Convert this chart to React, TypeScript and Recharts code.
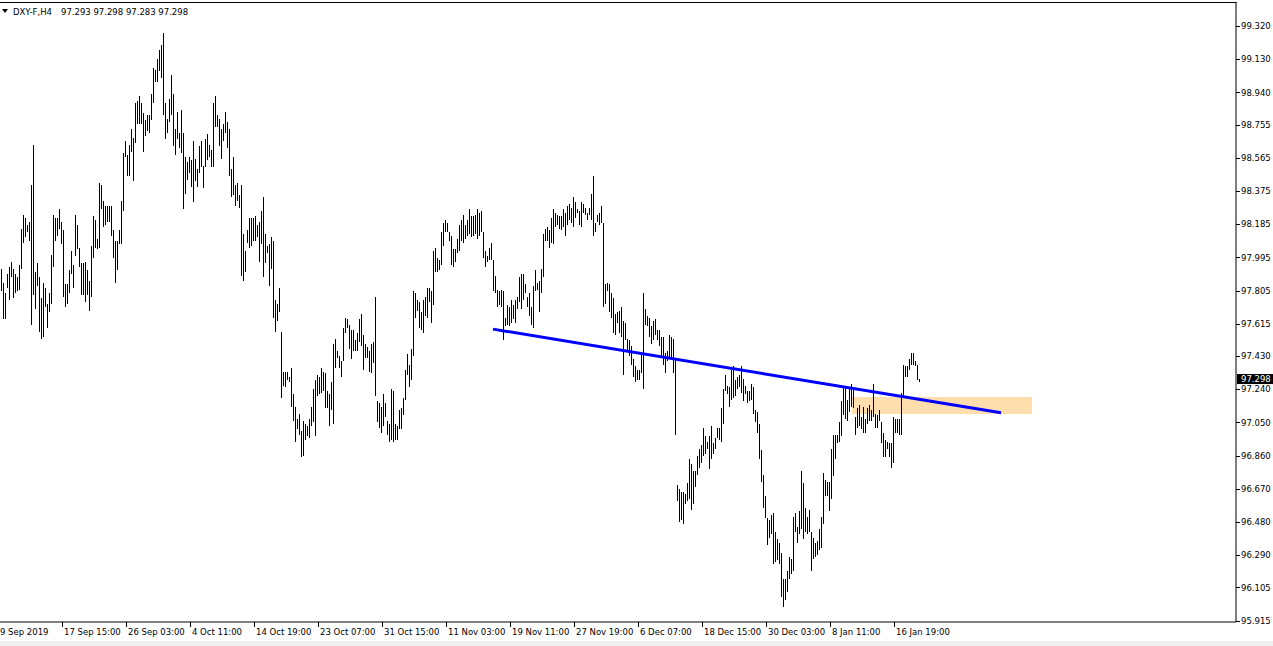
import React from 'react';
import { ComposedChart, Bar, XAxis, YAxis, ReferenceLine, ReferenceArea } from 'recharts';

// ---- data (DXY-F, H4) ----
const highs = [
  97.93, 97.85, 97.79, 97.90, 97.94, 97.97, 97.93, 97.90, 97.88, 97.95,
  98.16, 98.24, 98.22, 98.18, 98.20, 98.41, 98.64, 97.91, 97.96, 97.88,
  97.76, 97.85, 97.82, 97.73, 97.79, 98.01, 98.24, 98.22, 98.22, 98.27,
  98.20, 98.15, 97.84, 97.84, 97.92, 98.03, 97.95, 98.24, 98.18, 98.05,
  97.96, 97.96, 97.97, 97.92, 97.86, 98.06, 98.23, 98.21, 98.10, 98.42,
  98.41, 98.32, 98.29, 98.29, 98.29, 98.29, 98.15, 98.09, 98.09, 98.15,
  98.32, 98.59, 98.66, 98.58, 98.64, 98.73, 98.68, 98.88, 98.89, 98.92,
  98.88, 98.82, 98.78, 98.81, 98.81, 98.93, 99.08, 99.07, 99.13, 99.18,
  99.21, 99.28, 98.88, 98.79, 98.90, 99.04, 98.93, 98.73, 98.83, 98.71,
  98.84, 98.71, 98.57,
  98.54, 98.57, 98.55, 98.66, 98.56, 98.50, 98.63, 98.66, 98.52, 98.67,
  98.70, 98.64, 98.61, 98.88, 98.92, 98.81, 98.79, 98.73, 98.76, 98.83,
  98.77, 98.73, 98.50, 98.57, 98.41, 98.42, 98.35, 98.41, 98.13, 98.03,
  98.15, 98.22, 98.22, 98.22, 98.23, 98.18, 98.20, 98.26, 98.34, 98.13,
  98.06, 98.07, 98.11, 98.09, 97.75, 97.73, 97.82, 97.57, 97.34, 97.34,
  97.34, 97.31, 97.36, 97.21, 97.14, 97.07, 97.10, 97.00, 97.06, 97.04,
  97.03, 97.07, 97.14, 97.24, 97.29, 97.32, 97.31, 97.36, 97.34, 97.33,
  97.23, 97.21, 97.28, 97.50, 97.53, 97.46, 97.43, 97.40, 97.59, 97.65,
  97.64, 97.61, 97.58, 97.58, 97.52, 97.56, 97.64, 97.67, 97.55, 97.50,
  97.48,
  97.46, 97.50, 97.51, 97.77, 97.17, 97.16, 97.14, 97.21, 97.16, 97.06,
  97.04, 97.24, 97.23, 97.04, 97.03, 97.12, 97.13, 97.19, 97.35, 97.44,
  97.38, 97.47, 97.80, 97.79, 97.75, 97.74, 97.68, 97.75, 97.77, 97.82,
  97.82, 97.80, 98.03, 98.05, 97.99, 97.98, 98.14, 98.19, 98.21, 98.19,
  98.14, 98.12, 98.04, 98.04, 98.10, 98.18, 98.21, 98.24, 98.18, 98.21,
  98.27, 98.23, 98.23, 98.24, 98.27, 98.25, 98.26, 98.14, 98.03, 98.00,
  98.05, 98.08, 97.98, 97.89, 97.81, 97.80, 97.81, 97.80, 97.65, 97.72,
  97.71, 97.75, 97.72, 97.75, 97.77, 97.88, 97.90, 97.90, 97.84, 97.77,
  97.79, 97.71, 97.83, 97.92, 97.85, 97.86, 97.93, 98.13, 98.16, 98.17,
  98.15, 98.22,
  98.27, 98.25, 98.24, 98.23, 98.23, 98.27, 98.25, 98.29, 98.30, 98.28,
  98.34, 98.31, 98.27, 98.26, 98.31, 98.30, 98.28, 98.25, 98.28, 98.36,
  98.46, 98.19, 98.24, 98.25, 98.29, 98.19, 97.84, 97.85, 97.84, 97.79,
  97.76, 97.67, 97.68, 97.69, 97.71, 97.63, 97.62, 97.53, 97.52, 97.49,
  97.41, 97.37, 97.35, 97.35, 97.44, 97.79, 97.70, 97.66, 97.65, 97.60,
  97.63, 97.64, 97.58, 97.58, 97.54, 97.54, 97.45, 97.46, 97.55, 97.54,
  97.53, 97.41, 96.69, 96.67, 96.65, 96.65, 96.64, 96.70, 96.84, 96.81,
  96.77, 96.77, 96.86, 96.90, 96.92, 97.02, 96.97, 96.94, 96.97, 97.03,
  96.93, 96.96, 97.02, 97.02, 97.13, 97.24, 97.32, 97.26, 97.25, 97.35,
  97.37,
  97.29, 97.31, 97.32, 97.37, 97.30, 97.26, 97.23, 97.23, 97.27, 97.25,
  97.12, 97.11, 97.04, 96.89, 96.75, 96.63, 96.50, 96.49, 96.52, 96.53,
  96.42, 96.38, 96.36, 96.30, 96.15, 96.15, 96.20, 96.28, 96.27, 96.51,
  96.53, 96.45, 96.54, 96.77, 96.70, 96.56, 96.51, 96.55, 96.42, 96.39,
  96.36, 96.37, 96.44, 96.51, 96.76, 96.72, 96.71, 96.71, 96.90, 96.98,
  96.98, 96.98, 97.05, 97.17, 97.26, 97.25, 97.18, 97.24, 97.27, 97.25,
  97.08, 97.13, 97.15, 97.08, 97.14, 97.07, 97.13, 97.15, 97.12, 97.27,
  97.10, 97.09, 97.12, 97.05, 96.99, 96.95, 96.94, 96.93, 96.93, 97.08,
  97.07, 97.07, 97.07, 97.22, 97.38, 97.37, 97.37, 97.41, 97.45, 97.45,
  97.40, 97.38, 97.298,
];

const lows = [
  97.80, 97.64, 97.64, 97.82, 97.75, 97.88, 97.76, 97.79, 97.80, 97.81,
  97.93, 98.08, 98.11, 98.14, 98.09, 97.61, 97.78, 97.70, 97.83, 97.57,
  97.53, 97.54, 97.71, 97.59, 97.68, 97.73, 97.94, 98.09, 98.12, 98.16,
  98.07, 97.77, 97.71, 97.73, 97.79, 97.90, 97.82, 98.00, 98.04, 97.94,
  97.78, 97.78, 97.74, 97.78, 97.69, 97.77, 97.99, 98.05, 98.04, 98.05,
  98.27, 98.17, 98.18, 98.20, 98.20, 98.12, 97.99, 97.85, 97.92, 98.07,
  98.07, 98.26, 98.57, 98.46, 98.46, 98.60, 98.43, 98.65, 98.76, 98.76,
  98.76, 98.60, 98.69, 98.72, 98.71, 98.78, 98.88, 99.00, 99.00, 99.06,
  99.02, 98.81, 98.67, 98.71, 98.77, 98.81, 98.63, 98.58, 98.67, 98.62,
  98.59, 98.27, 98.36,
  98.44, 98.48, 98.40, 98.31, 98.43, 98.40, 98.48, 98.51, 98.39, 98.51,
  98.55, 98.57, 98.51, 98.51, 98.74, 98.74, 98.63, 98.56, 98.66, 98.71,
  98.62, 98.46, 98.34, 98.35, 98.29, 98.32, 98.28, 97.89, 97.86, 97.91,
  98.08, 98.05, 98.06, 98.09, 98.09, 98.11, 97.97, 98.07, 97.88, 97.96,
  98.02, 97.83, 97.93, 97.65, 97.57, 97.63, 97.68, 97.19, 97.26, 97.25,
  97.29, 97.28, 97.14, 97.06, 96.94, 97.01, 96.98, 96.85, 96.86, 96.95,
  96.97, 96.96, 97.03, 97.05, 96.97, 97.20, 97.21, 97.22, 97.23, 97.13,
  97.13, 97.03, 97.12, 97.04, 97.36, 97.42, 97.36, 97.31, 97.40, 97.56,
  97.59, 97.47, 97.41, 97.46, 97.46, 97.46, 97.51, 97.49, 97.35, 97.42,
  97.42,
  97.34, 97.33, 97.39, 97.20, 97.05, 97.02, 96.99, 97.03, 97.08, 96.98,
  96.94, 96.95, 96.94, 96.95, 96.95, 97.01, 97.01, 97.09, 97.18, 97.32,
  97.25, 97.29, 97.43, 97.65, 97.69, 97.59, 97.58, 97.56, 97.66, 97.65,
  97.74, 97.62, 97.72, 97.91, 97.91, 97.92, 97.95, 98.06, 98.14, 98.14,
  98.09, 97.95, 97.94, 97.97, 98.02, 98.03, 98.09, 98.08, 98.10, 98.12,
  98.13, 98.11, 98.12, 98.13, 98.10, 98.12, 98.14, 97.99, 97.94, 97.97,
  97.98, 97.98, 97.80, 97.79, 97.71, 97.72, 97.71, 97.52, 97.60, 97.61,
  97.60, 97.62, 97.64, 97.62, 97.70, 97.74, 97.70, 97.75, 97.79, 97.71,
  97.66, 97.61, 97.59, 97.80, 97.81, 97.68, 97.79, 97.88, 98.09, 98.09,
  98.05, 98.08,
  98.07, 98.17, 98.18, 98.16, 98.15, 98.17, 98.12, 98.18, 98.21, 98.19,
  98.17, 98.22, 98.25, 98.18, 98.17, 98.25, 98.24, 98.21, 98.24, 98.21,
  98.12, 98.14, 98.20, 98.18, 98.19, 97.71, 97.73, 97.80, 97.68, 97.65,
  97.56, 97.55, 97.62, 97.56, 97.54, 97.32, 97.52, 97.46, 97.43, 97.38,
  97.31, 97.28, 97.29, 97.29, 97.33, 97.24, 97.61, 97.60, 97.54, 97.50,
  97.52, 97.55, 97.52, 97.49, 97.42, 97.38, 97.33, 97.40, 97.41, 97.42,
  97.33, 96.98, 96.60, 96.48, 96.49, 96.47, 96.58, 96.60, 96.61, 96.55,
  96.58, 96.68, 96.75, 96.79, 96.82, 96.86, 96.87, 96.90, 96.78, 96.84,
  96.87, 96.90, 96.96, 96.95, 96.94, 97.04, 97.23, 97.21, 97.14, 97.18,
  97.19,
  97.20, 97.24, 97.25, 97.22, 97.17, 97.21, 97.16, 97.17, 97.18, 97.10,
  97.05, 96.99, 96.84, 96.71, 96.56, 96.50, 96.35, 96.39, 96.41, 96.24,
  96.25, 96.26, 96.24, 96.05, 95.99, 96.03, 96.08, 96.15, 96.18, 96.20,
  96.42, 96.36, 96.41, 96.44, 96.38, 96.42, 96.41, 96.42, 96.20, 96.27,
  96.28, 96.29, 96.32, 96.33, 96.47, 96.63, 96.63, 96.54, 96.61, 96.74,
  96.84, 96.93, 96.94, 96.97, 97.09, 97.07, 97.06, 97.11, 97.14, 97.13,
  96.98, 97.02, 97.03, 97.01, 96.99, 96.99, 97.04, 97.06, 97.06, 97.08,
  97.02, 97.02, 97.06, 96.93, 96.85, 96.85, 96.90, 96.85, 96.79, 96.82,
  96.99, 96.99, 96.98, 96.98, 97.19, 97.31, 97.31, 97.35, 97.38, 97.38,
  97.37, 97.29, 97.283,
];

const TOTAL_SLOTS = 618; // bars + empty space on the right (chart shift)

const xTickSlots = [0, 31, 63, 95, 127, 159, 191, 223, 255, 287, 319, 351, 383, 415, 447];
const xTickLabels = [
  '9 Sep 2019', '17 Sep 15:00', '26 Sep 03:00', '4 Oct 11:00', '14 Oct 19:00',
  '23 Oct 07:00', '31 Oct 15:00', '11 Nov 03:00', '19 Nov 11:00', '27 Nov 19:00',
  '6 Dec 07:00', '18 Dec 15:00', '30 Dec 03:00', '8 Jan 11:00', '16 Jan 19:00',
];

const yTicks = [
  99.32, 99.13, 98.94, 98.755, 98.565, 98.375, 98.185, 97.995, 97.805, 97.615,
  97.43, 97.24, 97.05, 96.86, 96.67, 96.48, 96.29, 96.105, 95.915,
];
const yDomain = [95.9065, 99.4575];

const symbolName = 'DXY-F,H4';
const lastOHLC = [97.293, 97.298, 97.283, 97.298];
const lastPrice = 97.298;

const trendSlots = [246, 500];
const trendPrices = [97.584, 97.105];

const zoneSlots = [426, 515];
const zonePrices = [97.098, 97.195];

const data = Array.from({ length: TOTAL_SLOTS }, (_, i) => ({
  slot: i,
  range: i < highs.length ? [lows[i], highs[i]] : null,
}));

const FONT = 'DejaVu Sans';
const FS = 8.5;

const BarShape = (props: any) => {
  const { x, y, height, payload } = props;
  if (!payload || !payload.range) return null;
  const top = Math.min(y, y + height);
  const h = Math.max(1, Math.abs(height));
  return <rect x={Math.floor(x)} y={top} width={1} height={h} fill="#000" shapeRendering="crispEdges" />;
};

const XTick = (props: any) => {
  const { x, y, payload } = props;
  const idx = xTickSlots.indexOf(payload.value);
  if (idx < 0) return null;
  const label = xTickLabels[idx];
  const bx = Math.round(x - 1);
  if (idx === 0) {
    return (
      <text x={0} y={y + 13} fontSize={FS} fontFamily={FONT} fill="#000" textAnchor="start">{label}</text>
    );
  }
  return (
    <g>
      <line x1={bx + 0.5} x2={bx + 0.5} y1={y} y2={y + 5} stroke="#000" strokeWidth={1} />
      <text x={bx + 2} y={y + 13} fontSize={FS} fontFamily={FONT} fill="#000" textAnchor="start">{label}</text>
    </g>
  );
};

const YTick = (props: any) => {
  const { x, y, payload } = props;
  const v = payload.value;
  const ax = Math.round(x);
  if (v === lastPrice) {
    return (
      <g>
        <rect x={ax + 1} y={y - 5} width={37} height={10} fill="#000" />
        <text x={ax + 5} y={y + 3.2} fontSize={FS} fontFamily={FONT} fill="#fff" textAnchor="start">{v.toFixed(3)}</text>
      </g>
    );
  }
  return (
    <g>
      <line x1={ax} x2={ax + 4} y1={Math.round(y) + 0.5} y2={Math.round(y) + 0.5} stroke="#000" strokeWidth={1} />
      <text x={ax + 5} y={y + 3.2} fontSize={FS} fontFamily={FONT} fill="#000" textAnchor="start">{v.toFixed(3)}</text>
    </g>
  );
};

export default function App() {
  const allYTicks = [...yTicks, lastPrice];
  return (
    <div style={{ position: 'absolute', left: 0, top: 0, width: 1273, height: 646, background: '#fff', overflow: 'hidden' }}>
      <ComposedChart
        width={1273}
        height={646}
        data={data}
        margin={{ top: 2, right: 0, bottom: 0, left: 0 }}
        barCategoryGap={0}
      >
        <XAxis
          dataKey="slot"
          type="category"
          height={24}
          ticks={xTickSlots}
          interval={0}
          tick={<XTick />}
          tickLine={false}
          tickSize={0}
          tickMargin={0}
          axisLine={{ stroke: '#000', strokeWidth: 1 }}
        />
        <YAxis
          orientation="right"
          type="number"
          width={37}
          domain={yDomain}
          allowDataOverflow
          ticks={allYTicks}
          interval={0}
          tick={<YTick />}
          tickLine={false}
          tickSize={0}
          tickMargin={0}
          axisLine={{ stroke: '#000', strokeWidth: 1 }}
        />
        <ReferenceArea
          x1={zoneSlots[0]}
          x2={zoneSlots[1]}
          y1={zonePrices[0]}
          y2={zonePrices[1]}
          fill="#FFDEAD"
          fillOpacity={1}
          stroke="none"
          zIndex={-10}
        />
        <Bar dataKey="range" isAnimationActive={false} barSize={1} shape={<BarShape />} />
        <ReferenceLine
          segment={[
            { x: trendSlots[0], y: trendPrices[0] },
            { x: trendSlots[1], y: trendPrices[1] },
          ]}
          stroke="#0000FF"
          strokeWidth={3}
          zIndex={1500}
        />
      </ComposedChart>
      <svg width={1273} height={646} style={{ position: 'absolute', left: 0, top: 0, pointerEvents: 'none' }}>
        <line x1={0} x2={1236.5} y1={2.5} y2={2.5} stroke="#000" strokeWidth={1} />
        <rect x={0} y={641} width={1273} height={5} fill="#F0F0F0" />
        <polygon points="2,9 8,9 5,13" fill="#000" />
        <text x={13} y={15} fontSize={FS} fontFamily={FONT} fill="#000">{symbolName}</text>
        <text x={61} y={15} fontSize={FS} fontFamily={FONT} fill="#000">{lastOHLC.map((v) => v.toFixed(3)).join(' ')}</text>
      </svg>
    </div>
  );
}
